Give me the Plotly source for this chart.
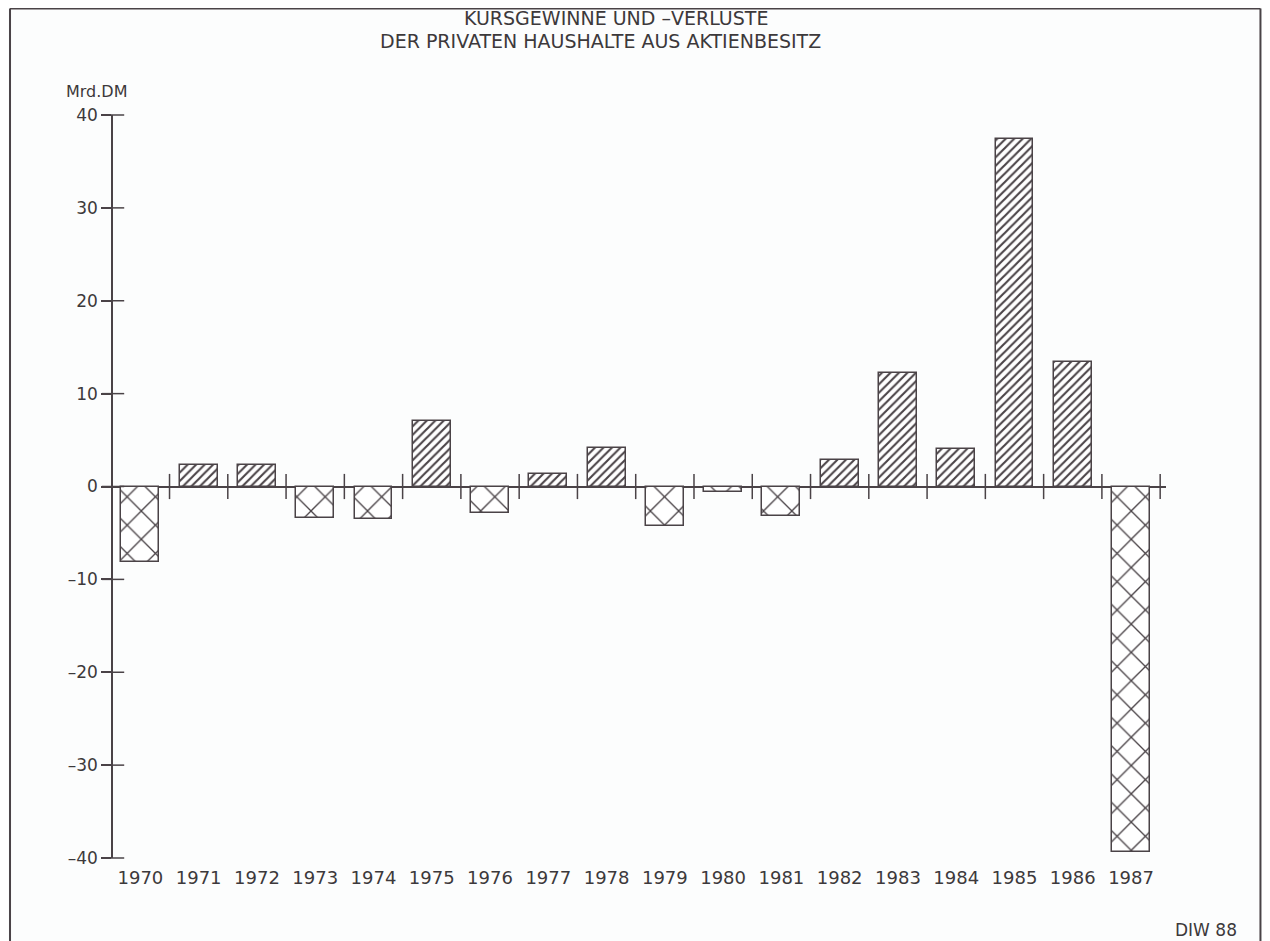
import plotly.graph_objects as go

years = [str(y) for y in range(1970, 1988)]
values = [-8.1, 2.3, 2.3, -3.4, -3.5, 7.1, -2.8, 1.4, 4.1, -4.3,
          -0.6, -3.2, 2.9, 12.2, 4.0, 37.4, 13.4, -39.4]
y_ticks = [-40, -30, -20, -10, 0, 10, 20, 30, 40]
y_ticktext = ["\u201340", "\u201330", "\u201320", "\u201310", "0", "10", "20", "30", "40"]
title_lines = ["KURSGEWINNE UND \u2013VERLUSTE", "DER PRIVATEN HAUSHALTE AUS AKTIENBESITZ"]
unit_label = "Mrd.DM"
source_label = "DIW 88"

INK = "#4a4347"
TXT = "#3c393b"
FONT = "DejaVu Sans"

idx = list(range(len(years)))
shapes_pat = ["/" if v >= 0 else "x" for v in values]
sizes_pat = [6 if v >= 0 else 20 for v in values]
solid_pat = [0.35 if v >= 0 else 0.13 for v in values]

fig = go.Figure()
fig.add_trace(go.Bar(
    x=idx, y=values, width=0.65,
    marker=dict(color="white",
                line=dict(color=INK, width=1.5),
                pattern=dict(shape=shapes_pat, size=sizes_pat, solidity=solid_pat,
                             fgcolor=INK, bgcolor="white", fillmode="replace")),
    showlegend=False, hoverinfo="skip"))

# boundary tick marks across the zero line
bounds = [i + 0.5 for i in idx]
fig.add_trace(go.Scatter(
    x=bounds, y=[0] * len(bounds), mode="markers",
    marker=dict(symbol="line-ns", size=18, line=dict(color=INK, width=1.5)),
    cliponaxis=False, showlegend=False, hoverinfo="skip"))

# inner part of y-axis ticks (crossing ticks)
fig.add_trace(go.Scatter(
    x=[-0.47] * len(y_ticks), y=y_ticks, mode="markers",
    marker=dict(symbol="line-ew", size=16, line=dict(color=INK, width=1.5)),
    cliponaxis=False, showlegend=False, hoverinfo="skip"))

fig.update_layout(
    width=1262, height=933,
    margin=dict(l=105, r=103.5, t=107, b=83),
    paper_bgcolor="#fcfdfd", plot_bgcolor="rgba(0,0,0,0)",
    font=dict(family=FONT, size=17, color=TXT),
    bargap=0,
)
fig.update_xaxes(
    range=[-0.47, 17.6], tickvals=idx, ticktext=years,
    showgrid=False, zeroline=False, showline=False,
    ticks="outside", ticklen=3, tickcolor="rgba(0,0,0,0)",
    tickfont=dict(family=FONT, size=18, color=TXT),
)
fig.update_yaxes(
    range=[-40, 40], tickvals=y_ticks, ticktext=y_ticktext,
    showgrid=False, zeroline=True, zerolinecolor=INK, zerolinewidth=1.5,
    showline=True, linecolor=INK, linewidth=1.5,
    ticks="outside", ticklen=10, tickcolor=INK, tickwidth=1.5,
    tickfont=dict(family=FONT, size=17, color=TXT),
)

fig.add_annotation(text=title_lines[0], x=0.4774, y=1.1305, xref="paper", yref="paper",
                   showarrow=False, xanchor="center", yanchor="middle",
                   font=dict(family=FONT, size=19, color=TXT))
fig.add_annotation(text=title_lines[1], x=0.4632, y=1.0996, xref="paper", yref="paper",
                   showarrow=False, xanchor="center", yanchor="middle",
                   font=dict(family=FONT, size=19, color=TXT))
fig.add_annotation(text=unit_label, x=-0.0157, y=1.031, xref="paper", yref="paper",
                   showarrow=False, xanchor="center", yanchor="middle",
                   font=dict(family=FONT, size=16, color=TXT))
fig.add_annotation(text=source_label, x=1.0698, y=-0.0805, xref="paper", yref="paper",
                   showarrow=False, xanchor="right", yanchor="top",
                   font=dict(family=FONT, size=17, color=TXT))

# outer frame
frame = dict(type="line", xref="paper", yref="paper", line=dict(color=INK, width=2))
fig.add_shape(**frame, x0=-0.0978, x1=-0.0978, y0=1.1433, y1=-0.13)
fig.add_shape(**frame, x0=-0.0978, x1=1.0897, y0=1.1433, y1=1.1433)
fig.add_shape(**frame, x0=1.0897, x1=1.0897, y0=1.1433, y1=-0.13)

fig.write_html("out.html")
